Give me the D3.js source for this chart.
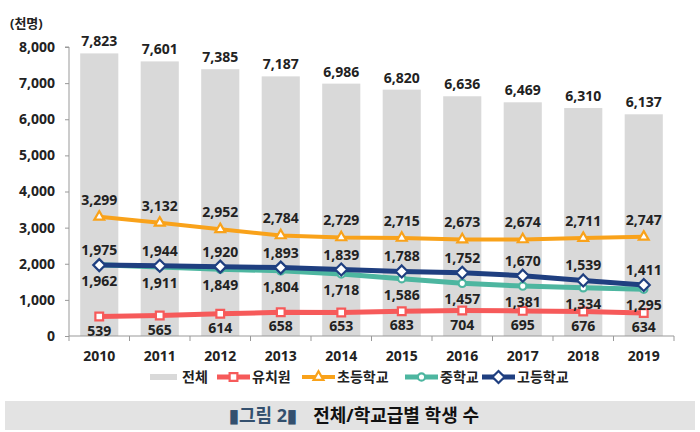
<!DOCTYPE html>
<html>
<head>
<meta charset="utf-8">
<script src="https://cdn.jsdelivr.net/npm/d3@7"></script>
<style>
  body { margin: 0; background: #fff; }
  text { font-family: "Open Sans", "Noto Sans CJK KR", sans-serif; font-weight: 700; }
</style>
</head>
<body>
<svg id="chart" width="700" height="432"></svg>
<script>
var years = ['2010', '2011', '2012', '2013', '2014', '2015', '2016', '2017', '2018', '2019'];
var total = [7823, 7601, 7385, 7187, 6986, 6820, 6636, 6469, 6310, 6137];
var kinder = [539, 565, 614, 658, 653, 683, 704, 695, 676, 634];
var elem = [3299, 3132, 2952, 2784, 2729, 2715, 2673, 2674, 2711, 2747];
var middle = [1975, 1911, 1849, 1804, 1718, 1586, 1457, 1381, 1334, 1295];
var high = [1962, 1944, 1920, 1893, 1839, 1788, 1752, 1670, 1539, 1411];
var yTicks = [0, 1000, 2000, 3000, 4000, 5000, 6000, 7000, 8000];

var svg = d3.select('#chart');
var fmt = d3.format(',');
var fs = 14;

var x = d3.scaleBand().domain(years).range([69, 674]).paddingInner(0.37).paddingOuter(0.185);
var y = d3.scaleLinear().domain([0, 8000]).range([336, 47]);
var cx = function (i) { return x(years[i]) + x.bandwidth() / 2; };

// bars
svg.append('g').selectAll('rect')
  .data(total)
  .enter().append('rect')
  .attr('x', function (d, i) { return x(years[i]); })
  .attr('y', function (d) { return y(d); })
  .attr('width', x.bandwidth())
  .attr('height', function (d) { return y(0) - y(d); })
  .attr('fill', '#d9d9d9');

svg.append('g').selectAll('text')
  .data(total)
  .enter().append('text')
  .attr('x', function (d, i) { return cx(i); })
  .attr('y', function (d) { return y(d) - 7; })
  .attr('text-anchor', 'middle')
  .attr('font-size', fs)
  .attr('fill', '#222')
  .text(fmt);

// axes
var yAxis = svg.append('g').attr('transform', 'translate(69,0)')
  .call(d3.axisLeft(y).tickValues(yTicks).tickFormat(fmt).tickSize(4).tickPadding(10));
yAxis.select('.domain').attr('stroke', '#999').attr('d', 'M-4,47H0V336');
yAxis.selectAll('line').attr('stroke', '#999');
yAxis.selectAll('text').attr('font-size', fs).attr('fill', '#222').attr('font-weight', 700)
  .attr('font-family', '"Open Sans", sans-serif');

var xb = svg.append('g');
xb.append('line').attr('x1', 69).attr('x2', 674).attr('y1', 336).attr('y2', 336).attr('stroke', '#999');
xb.selectAll('.tk').data(d3.range(years.length + 1)).enter().append('line')
  .attr('x1', function (i) { return 69 + i * x.step(); })
  .attr('x2', function (i) { return 69 + i * x.step(); })
  .attr('y1', 336).attr('y2', 341).attr('stroke', '#999');
xb.selectAll('text').data(years).enter().append('text')
  .attr('x', function (d, i) { return cx(i); })
  .attr('y', 361)
  .attr('text-anchor', 'middle')
  .attr('font-size', fs)
  .attr('fill', '#222')
  .text(function (d) { return d; });

svg.append('text').attr('x', 10).attr('y', 28).attr('font-size', 13).attr('fill', '#222').text('(천명)');

// marker shapes
var diamond = {
  draw: function (ctx, size) {
    var r = Math.sqrt(size / 2);
    ctx.moveTo(0, -r); ctx.lineTo(r, 0); ctx.lineTo(0, r); ctx.lineTo(-r, 0); ctx.closePath();
  }
};
var shapes = {
  square: d3.symbol().type(d3.symbolSquare).size(60),
  triangle: d3.symbol().type(d3.symbolTriangle).size(42),
  circle: d3.symbol().type(d3.symbolCircle).size(42),
  diamond: d3.symbol().type(diamond).size(72)
};

var series = [
  { name: '유치원', values: kinder, color: '#f65a5a', width: 5, shape: 'square' },
  { name: '초등학교', values: elem, color: '#f9a21a', width: 4, shape: 'triangle' },
  { name: '중학교', values: middle, color: '#4db6a0', width: 5, shape: 'circle' },
  { name: '고등학교', values: high, color: '#1f3f80', width: 5, shape: 'diamond' }
];

var line = d3.line().x(function (d, i) { return cx(i); }).y(function (d) { return y(d); });

series.forEach(function (s) {
  var g = svg.append('g');
  g.append('path').attr('d', line(s.values)).attr('fill', 'none')
    .attr('stroke', s.color).attr('stroke-width', s.width).attr('stroke-linejoin', 'round');
  g.selectAll('path.m').data(s.values).enter().append('path')
    .attr('class', 'm')
    .attr('d', shapes[s.shape])
    .attr('transform', function (d, i) { return 'translate(' + cx(i) + ',' + y(d) + ')'; })
    .attr('fill', '#fff').attr('stroke', s.color).attr('stroke-width', 2.2);
});

// point labels
function addLabels(vals, pos) {
  svg.append('g').selectAll('text').data(vals).enter().append('text')
    .attr('x', function (d, i) { return cx(i); })
    .attr('y', function (d, i) { return pos(d, i); })
    .attr('text-anchor', 'middle')
    .attr('font-size', fs)
    .attr('fill', '#222')
    .text(fmt);
}
addLabels(elem, function (d) { return y(d) - 12; });
addLabels(kinder, function (d) { return y(d) + 19; });
var upper = middle.map(function (d, i) { return Math.max(d, high[i]); });
var lower = middle.map(function (d, i) { return Math.min(d, high[i]); });
addLabels(upper, function (d) { return y(d) - 10; });
addLabels(lower, function (d) { return y(d) + 21; });

// legend
var lg = svg.append('g').attr('font-size', 14);
lg.append('rect').attr('x', 150).attr('y', 374).attr('width', 27).attr('height', 6).attr('fill', '#d9d9d9');
lg.append('text').attr('x', 182).attr('y', 382).attr('fill', '#222').text('전체');
var lx = [217, 302, 405, 482];
series.forEach(function (s, k) {
  lg.append('line').attr('x1', lx[k]).attr('x2', lx[k] + 33).attr('y1', 377).attr('y2', 377)
    .attr('stroke', s.color).attr('stroke-width', s.width);
  lg.append('path').attr('d', shapes[s.shape])
    .attr('transform', 'translate(' + (lx[k] + 16.5) + ',377)')
    .attr('fill', '#fff').attr('stroke', s.color).attr('stroke-width', 2.2);
  lg.append('text').attr('x', lx[k] + 35).attr('y', 382).attr('fill', '#222').text(s.name);
});

// caption
svg.append('rect').attr('x', 5).attr('y', 401).attr('width', 690).attr('height', 29).attr('fill', '#e3e3e3');
var cap = svg.append('text').attr('x', 354).attr('y', 422).attr('text-anchor', 'middle').attr('font-size', 18)
  .attr('font-family', '"Noto Sans CJK KR", sans-serif');
cap.append('tspan').attr('fill', '#34506e').text('▮그림 2▮');
cap.append('tspan').attr('fill', '#111').attr('dx', 16).text('전체/학교급별 학생 수');
</script>
</body>
</html>
